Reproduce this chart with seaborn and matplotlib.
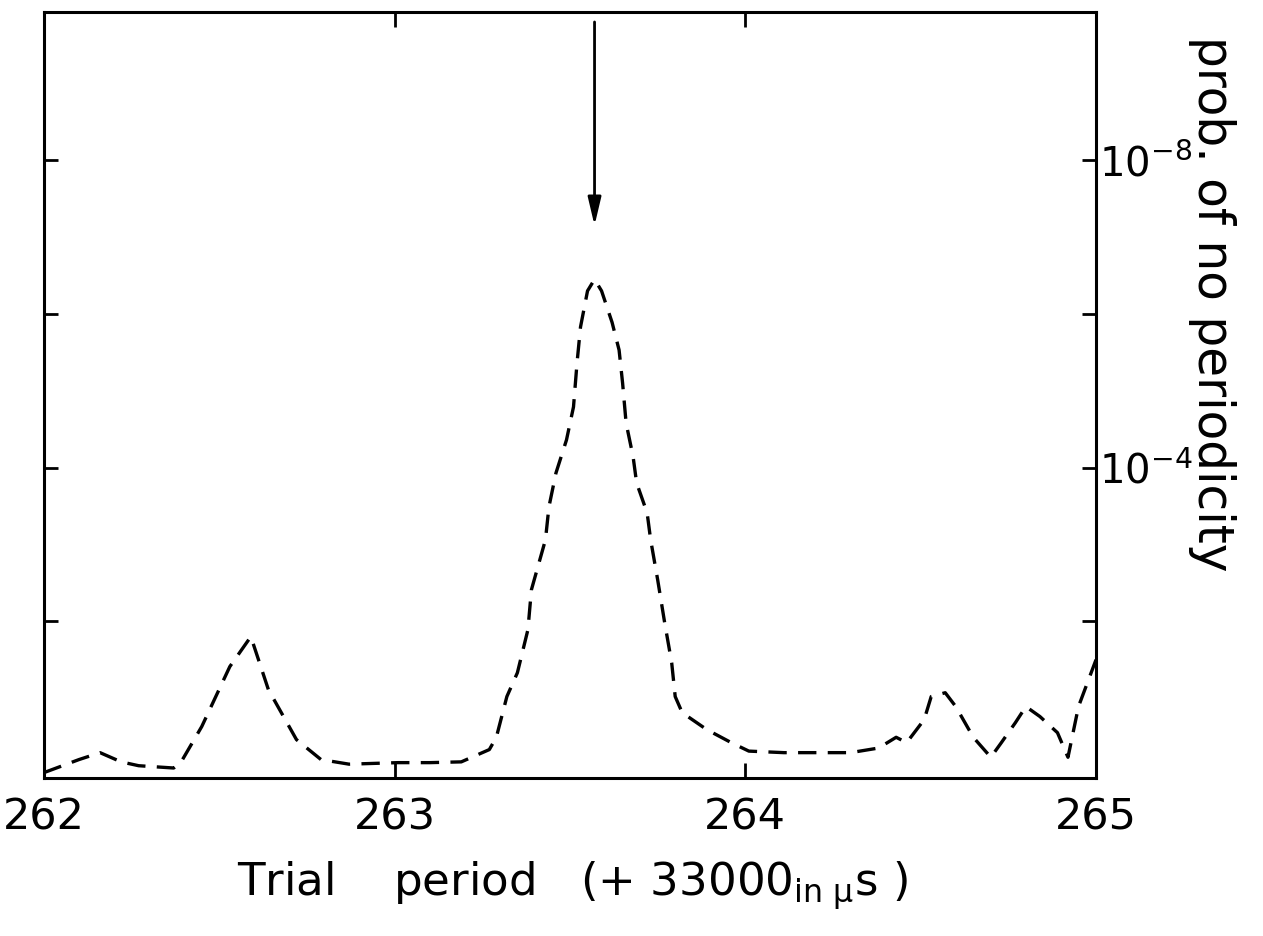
import numpy as np
import pandas as pd
import matplotlib
matplotlib.use("Agg")
import matplotlib.pyplot as plt
import seaborn as sns

# Data: trial period (+33000 us) and log10 of prob. of no periodicity
period = [262.00, 262.10, 262.16, 262.22, 262.27, 262.37, 262.39, 262.45, 262.53, 262.59,
          262.64, 262.72, 262.79, 262.87, 263.01, 263.10, 263.19, 263.27, 263.29, 263.32,
          263.35, 263.38, 263.39, 263.43, 263.44, 263.46, 263.49, 263.51, 263.52, 263.53,
          263.55, 263.57, 263.59, 263.62, 263.64, 263.65, 263.66, 263.68, 263.69, 263.72,
          263.73, 263.75, 263.77, 263.79, 263.80, 263.82, 263.89, 263.96, 264.01, 264.11,
          264.30, 264.38, 264.43, 264.46, 264.51, 264.53, 264.57, 264.60, 264.65, 264.70,
          264.73, 264.77, 264.80, 264.84, 264.89, 264.92, 264.95, 265.00]
log_prob = [-0.03, -0.20, -0.29, -0.17, -0.12, -0.09, -0.16, -0.63, -1.41, -1.80,
            -1.11, -0.46, -0.20, -0.14, -0.16, -0.16, -0.17, -0.33, -0.49, -1.02,
            -1.33, -1.89, -2.41, -3.06, -3.49, -3.93, -4.36, -4.79, -5.36, -5.83,
            -6.30, -6.45, -6.30, -5.89, -5.53, -5.10, -4.58, -4.14, -3.80, -3.41,
            -3.06, -2.54, -1.98, -1.46, -1.02, -0.81, -0.59, -0.42, -0.31, -0.29,
            -0.29, -0.35, -0.49, -0.42, -0.72, -1.02, -1.07, -0.89, -0.49, -0.23,
            -0.42, -0.68, -0.89, -0.76, -0.55, -0.23, -0.89, -1.50]

x_ticklabels = ["262", "263", "264", "265"]
y_ticks = [1e-8, 1e-6, 1e-4, 1e-2]
y_ticklabels = ["$10^{-8}$", "", "$10^{-4}$", ""]
arrow_period = 263.57
arrow_tip_log = -7.15
arrow_tail_log = -9.8

df = pd.DataFrame({"period": period, "prob": 10.0 ** np.array(log_prob)})

sns.set_style("ticks")
plt.rcParams["font.family"] = ["DejaVu Sans"]
plt.rcParams["mathtext.fontset"] = "dejavusans"
plt.rcParams["text.color"] = "black"
plt.rcParams["xtick.color"] = "black"
plt.rcParams["ytick.color"] = "black"
plt.rcParams["axes.edgecolor"] = "black"

fig = plt.figure(figsize=(12.63, 9.36), dpi=100)
ax = fig.add_axes([0.0348, 0.1688, 0.833, 0.8184])

sns.lineplot(data=df, x="period", y="prob", ax=ax, color="black", linewidth=2.4,
             estimator=None, sort=False)
ax.lines[0].set_dashes((5.5, 3.4))

ax.set_yscale("log")
ax.set_ylim(10 ** 0.04, 10 ** -9.93)
ax.set_xlim(262, 265)

ax.set_xticks([262, 263, 264, 265])
ax.set_xticklabels(x_ticklabels)
ax.set_yticks(y_ticks)
ax.set_yticklabels(y_ticklabels)
ax.yaxis.set_minor_locator(matplotlib.ticker.NullLocator())

ax.tick_params(axis="x", direction="in", length=11, width=2, pad=13, labelsize=31,
               top=True, bottom=True, colors="black")
ax.tick_params(axis="y", direction="in", length=10, width=2, pad=2, labelsize=29,
               left=True, right=True, labelleft=False, labelright=True, colors="black")
for t in ax.xaxis.get_major_ticks():
    if t.get_loc() in (262, 265):
        t.tick1line.set_visible(False)
        t.tick2line.set_visible(False)

for s in ax.spines.values():
    s.set_linewidth(2.2)
    s.set_color("black")
    s.set_visible(True)

ax.set_xlabel("")
ax.set_ylabel("")

# arrow pointing at the peak
ax.annotate("", xy=(arrow_period, 10 ** arrow_tip_log), xytext=(arrow_period, 10 ** arrow_tail_log),
            arrowprops=dict(arrowstyle="-|>,head_length=1.7,head_width=0.4", color="black",
                            lw=2, shrinkA=0, shrinkB=0))

fig.text(0.453, 0.054, "Trial    period   (+ 33000$_{\\rm in\\ \\mu}$s )", fontsize=32.5,
         ha="center", va="center", color="black")
fig.text(0.960, 0.962, "prob. of no periodicity", fontsize=35, rotation=-90,
         ha="center", va="top", color="black")

fig.savefig("out.png", dpi=100)
